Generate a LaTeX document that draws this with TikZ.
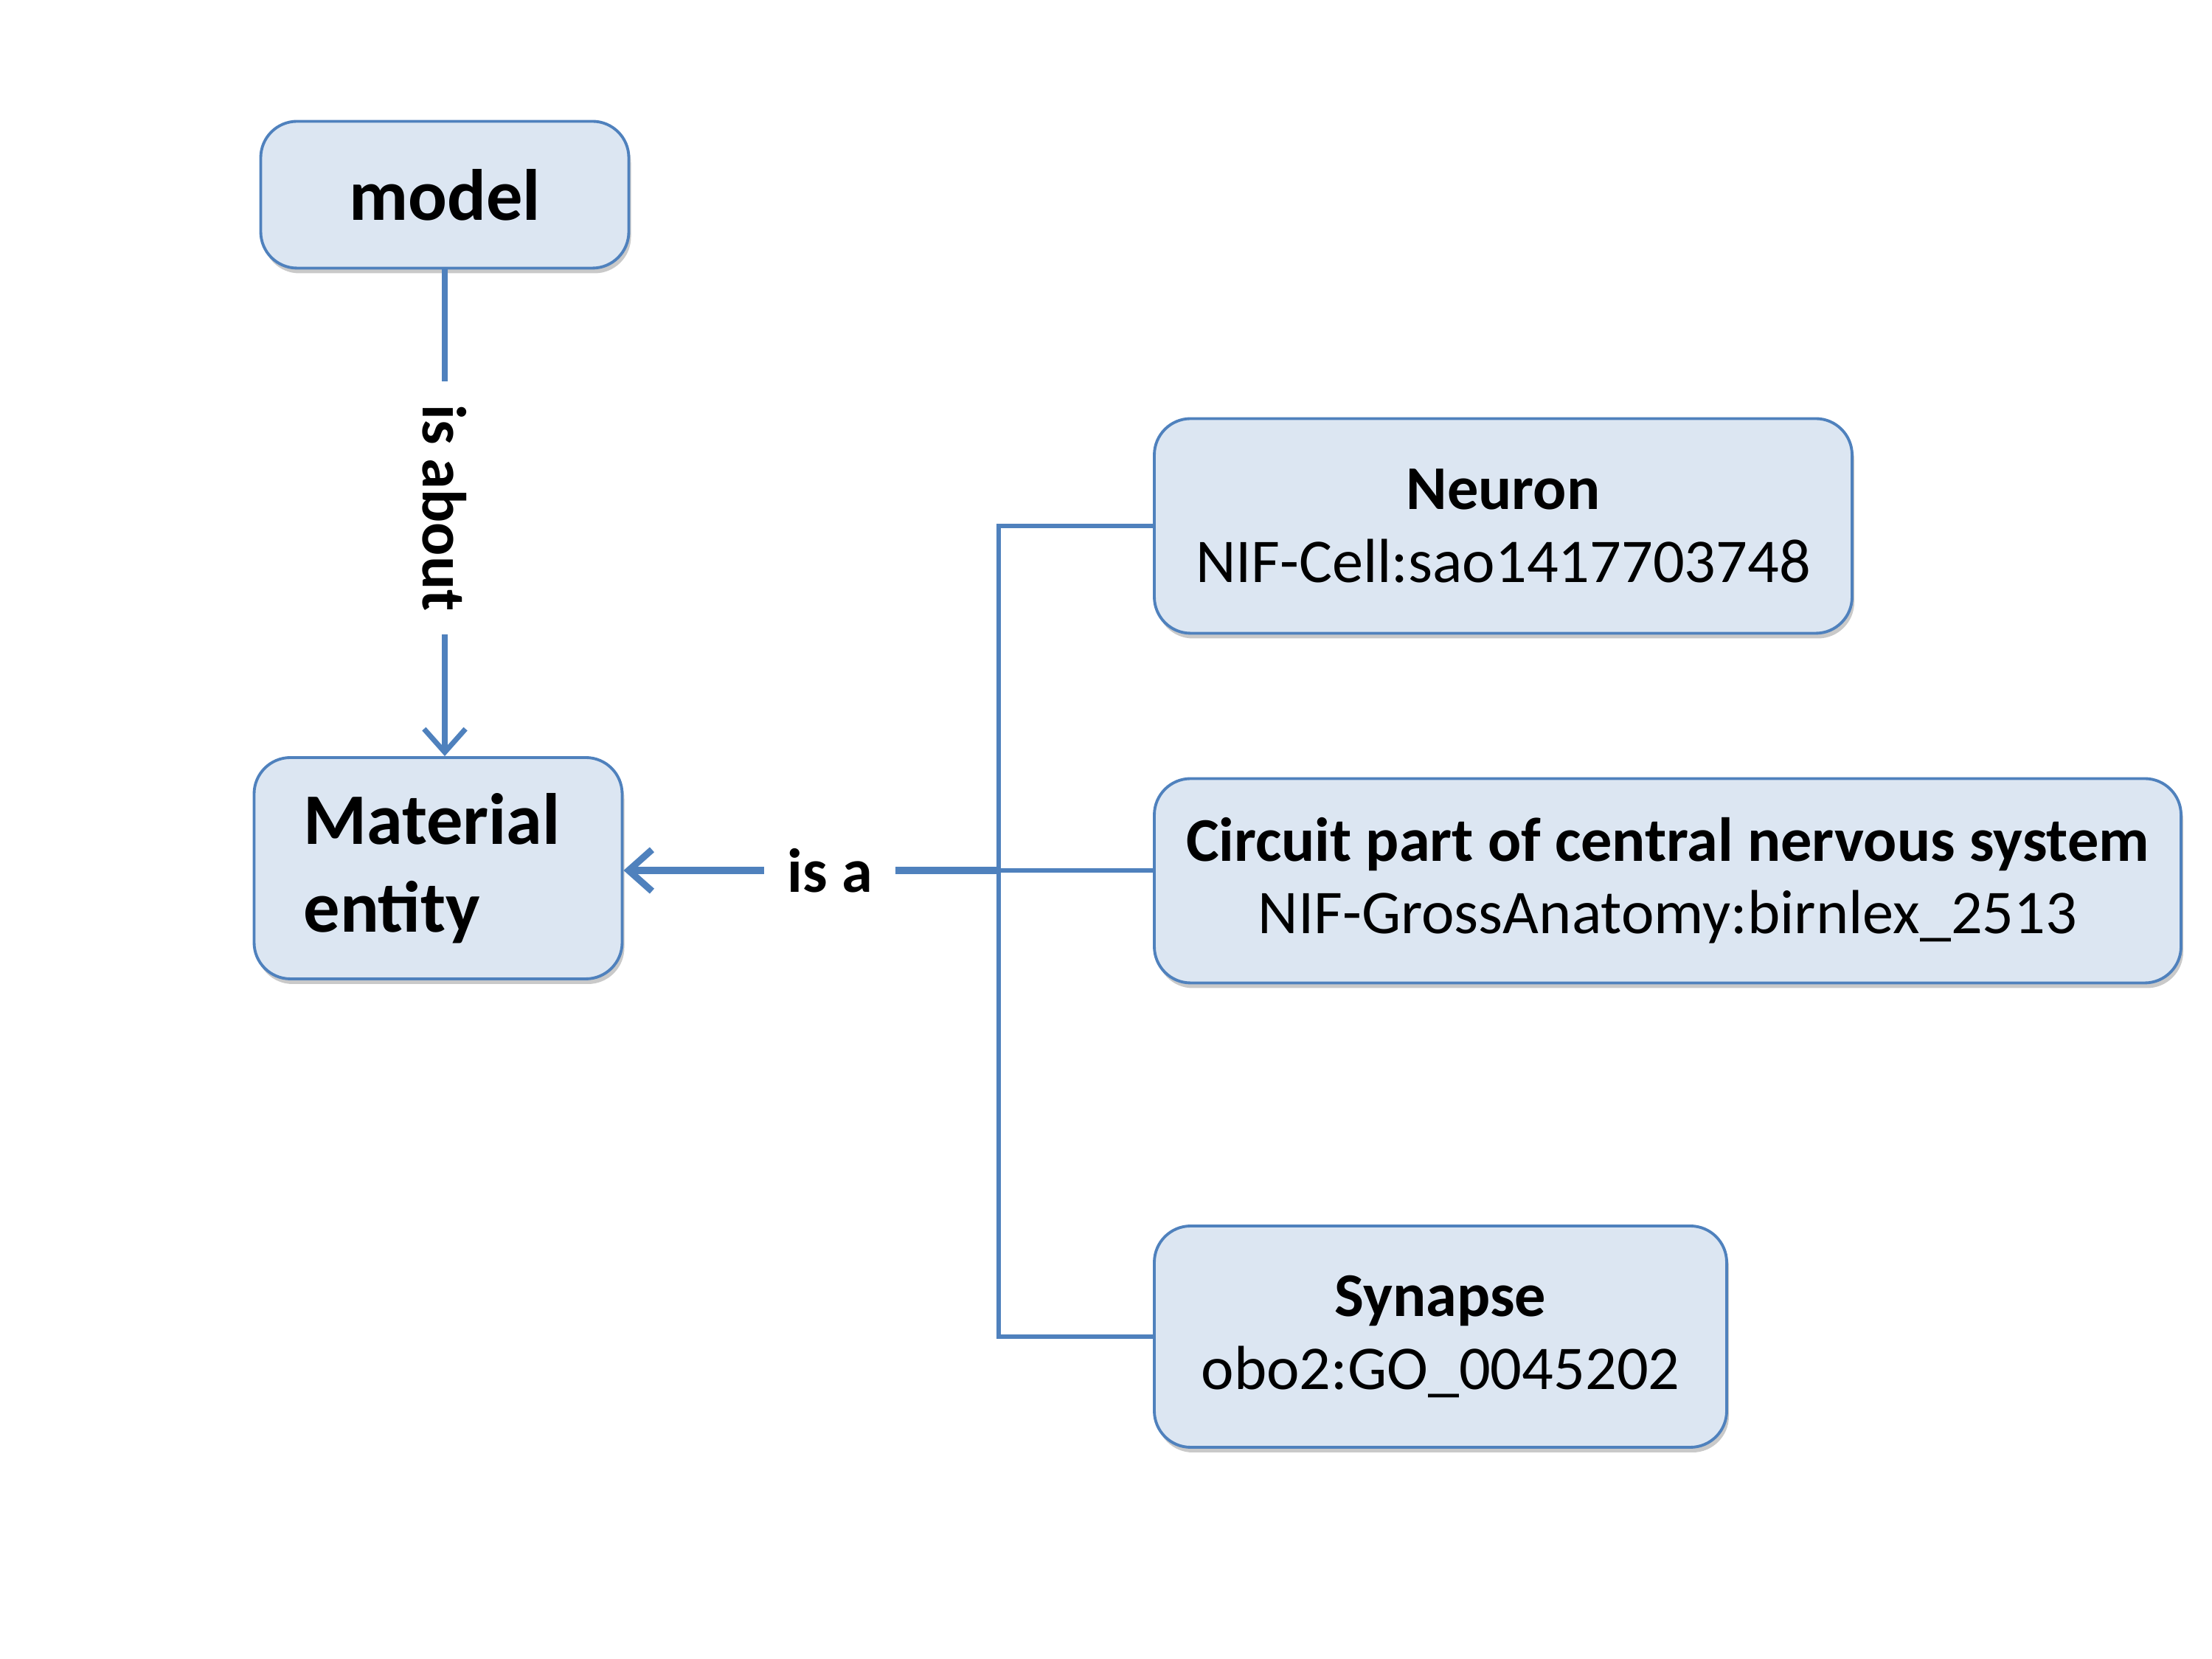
\documentclass[tikz,border=0pt]{standalone}
\usepackage{fontspec}
\setmainfont{Carlito}
\usepackage{tikz}
\usetikzlibrary{arrows.meta,shadows}
\definecolor{ontoback}{RGB}{220,230,242}
\definecolor{ontoline}{RGB}{79,129,189}

\begin{document}
\begin{tikzpicture}[
  box/.style={draw=ontoline,line width=1.1pt,fill=ontoback,rounded corners=14pt,
    drop shadow={shadow xshift=0.03cm,shadow yshift=-0.07cm,opacity=0.3,fill=black!70},
    align=center,inner sep=0pt},
  link/.style={draw=ontoline,line width=1.8pt},
  rel/.style={fill=white,font=\fontsize{24}{28}\selectfont\bfseries,inner xsep=9pt,inner ysep=4pt}
]
\useasboundingbox (0,0) rectangle (29.99,22.49);

\node [box,minimum width=4.99cm,minimum height=1.99cm,font=\fontsize{28}{34}\selectfont\bfseries]
  (model) at (6.03,19.85) {model};
\node [box,minimum width=4.99cm,minimum height=3.00cm,text width=3.65cm,align=left,
  font=\fontsize{28}{34}\selectfont\bfseries]
  (material) at (5.94,10.72) {Material\\entity};
\node [box,minimum width=9.46cm,minimum height=2.91cm,font=\fontsize{24}{28}\selectfont]
  (neuron) at (20.38,15.36) {\textbf{Neuron}\\NIF-Cell:sao1417703748};
\node [box,minimum width=13.92cm,minimum height=2.77cm,font=\fontsize{24}{28}\selectfont]
  (circuit) at (22.61,10.55) {\textbf{Circuit part of central nervous system}\\NIF-GrossAnatomy:birnlex\_2513};
\node [box,minimum width=7.76cm,minimum height=3.00cm,font=\fontsize{24}{28}\selectfont]
  (synapse) at (19.53,4.37) {\textbf{Synapse}\\obo2:GO\_0045202};

\coordinate (hub) at (13.54,10.69);

% is about
\draw [link,line width=2pt,-{Straight Barb[length=9pt,width=16pt]}]
  (model.south) -- (model.south |- material.north)
  node [rel,pos=0.49,rotate=-90] (about) {is about};

% is a
\draw [link,line width=2.6pt,-{Straight Barb[length=9pt,width=16pt]}]
  (hub) -- (material.east |- hub)
  node [rel,pos=0.45] (isa) {is a};
\draw [link] (neuron.west) -- (neuron.west -| hub) -- (synapse.west -| hub) -- (synapse.west);
\draw [link] (hub) -- (hub -| circuit.west);
\end{tikzpicture}
\end{document}
